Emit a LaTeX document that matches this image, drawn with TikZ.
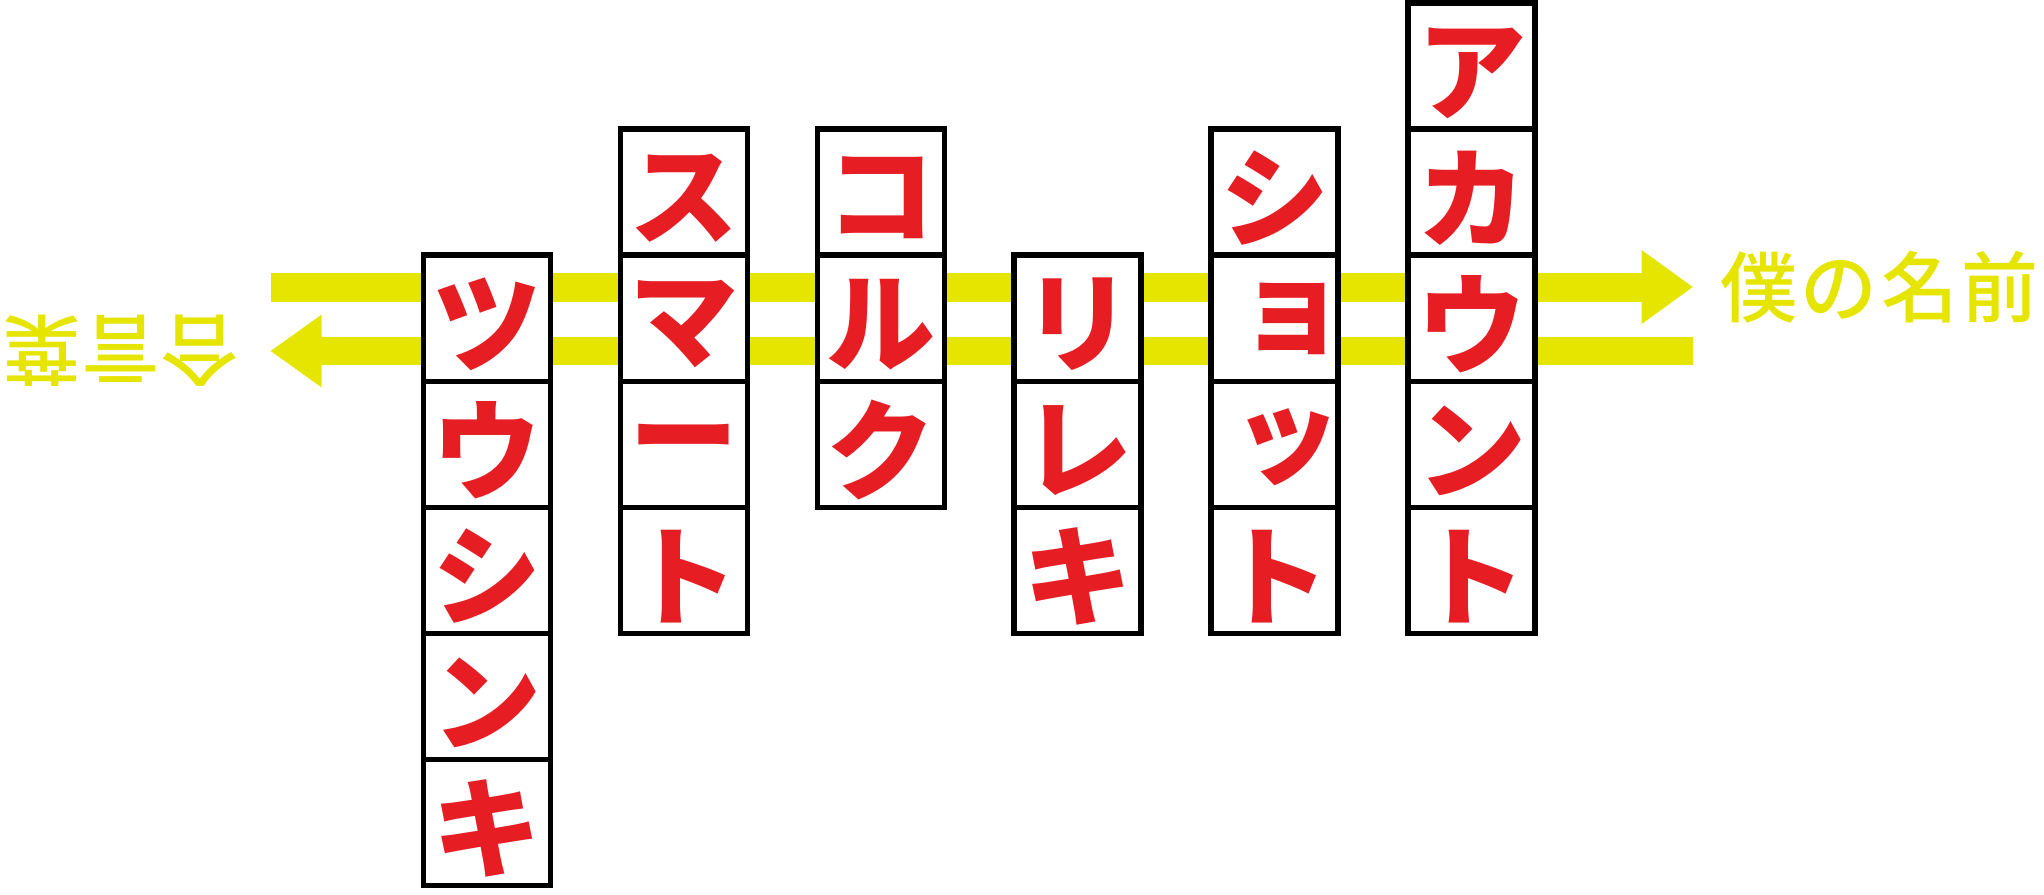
\documentclass[tikz,border=0pt]{standalone}
\usepackage{fontspec}
\usetikzlibrary{calc}
\newfontfamily\jp{Noto Sans CJK JP}
\newfontfamily\jpm{Noto Sans CJK JP Medium}
\definecolor{yel}{RGB}{229,229,0}
\definecolor{kred}{RGB}{230,30,35}
\begin{document}
\begin{tikzpicture}[x=1pt,y=-1pt,
  kbox/.style={draw=black,line width=5.5pt,fill=white,minimum width=127pt,minimum height=126.1pt,inner sep=0pt},
  ktext/.style={text=kred,inner sep=0pt,font={\jp\bfseries\fontsize{109}{109}\selectfont}},
  ylabel/.style={text=yel,inner sep=0pt,font={\jpm\fontsize{77}{77}\selectfont}}]
\useasboundingbox (0,0) rectangle (2044,894);
% arrows
\coordinate (uL) at (270.7,287);
\coordinate (uB) at (1641.7,287);
\coordinate (uT) at (1692.7,287);
\coordinate (lT) at (270.7,351);
\coordinate (lB) at (321.7,351);
\coordinate (lR) at (1692.7,351);
\fill[yel] ($(uL)+(0,-14.5)$) rectangle ($(uB)+(0.5,14.5)$);
\fill[yel] ($(uB)+(0,-37)$) -- (uT) -- ($(uB)+(0,37)$) -- cycle;
\fill[yel] ($(lB)+(-0.5,-14.2)$) rectangle ($(lR)+(0,14.2)$);
\fill[yel] ($(lB)+(0,-36.5)$) -- (lT) -- ($(lB)+(0,36.5)$) -- cycle;
% boxes: name, left x, row, text, text shift
\def\bx#1#2#3#4#5{\node[kbox] (#1) at ({#2+63.5},{3+126.1*#3+63.05}) {};
  \node[ktext,#5] (#1t) at (#1.center) {#4};}
% column 1
\bx{a2}{423.5}{2}{ツ}{yshift=-6pt}
\bx{a3}{423.5}{3}{ウ}{yshift=-6pt}
\bx{a4}{423.5}{4}{シ}{yshift=-6pt}
\bx{a5}{423.5}{5}{ン}{yshift=-6pt}
\bx{a6}{423.5}{6}{キ}{yshift=-6pt}
% column 2
\bx{b1}{620.4}{1}{ス}{yshift=-6pt}
\bx{b2}{620.4}{2}{マ}{yshift=-6pt}
\bx{b3}{620.4}{3}{ー}{yshift=-6pt}
\bx{b4}{620.4}{4}{ト}{yshift=-6pt}
% column 3
\bx{c1}{817.3}{1}{コ}{yshift=-6pt}
\bx{c2}{817.3}{2}{ル}{yshift=-6pt}
\bx{c3}{817.3}{3}{ク}{yshift=-6pt}
% column 4
\bx{d2}{1014.2}{2}{リ}{yshift=-6pt}
\bx{d3}{1014.2}{3}{レ}{yshift=-6pt}
\bx{d4}{1014.2}{4}{キ}{yshift=-6pt}
% column 5
\bx{e1}{1211.1}{1}{シ}{yshift=-6pt}
\bx{e2}{1211.1}{2}{ョ}{xshift=17pt,yshift=-1pt}
\bx{e3}{1211.1}{3}{ッ}{xshift=12pt,yshift=-3pt}
\bx{e4}{1211.1}{4}{ト}{yshift=-6pt}
% column 6
\bx{f0}{1408}{0}{ア}{yshift=-7pt}
\bx{f1}{1408}{1}{カ}{yshift=-6pt}
\bx{f2}{1408}{2}{ウ}{yshift=-6pt}
\bx{f3}{1408}{3}{ン}{yshift=-6pt}
\bx{f4}{1408}{4}{ト}{yshift=-6pt}
% labels
\node[ylabel] (right) at (1879.5,287) {僕\kern3.3pt の\kern3.3pt 名\kern3.3pt 前};
\node[ylabel,rotate=180] (left) at (121,350.5) {合\kern2pt 言\kern2pt 葉};
\end{tikzpicture}
\end{document}
